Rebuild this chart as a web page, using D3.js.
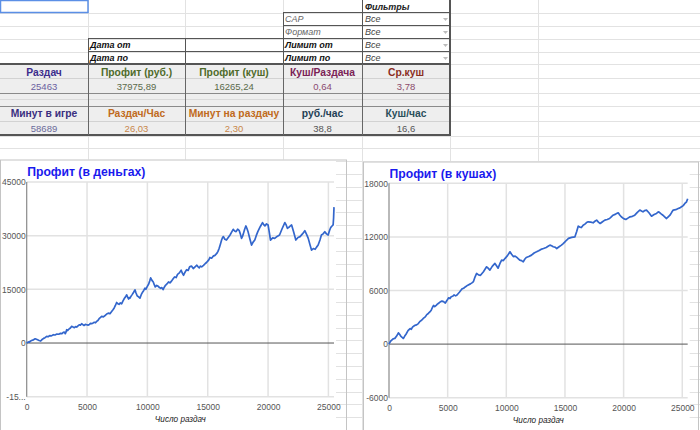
<!DOCTYPE html>
<html><head><meta charset="utf-8">
<script src="https://cdn.jsdelivr.net/npm/d3@7"></script>
<style>html,body{margin:0;padding:0;background:#fff;}svg{display:block;font-family:Arial,"Liberation Sans",sans-serif;}</style>
</head><body>
<svg id="c" width="700" height="430"></svg>
<script>
// ---------- data ----------
const filterLabels = ["CAP", "Формат", "Лимит от", "Лимит по"];
const filterValues = ["Все", "Все", "Все", "Все"];
const dateLabels = ["Дата от", "Дата по"];
const statHeaders1 = ["Раздач", "Профит (руб.)", "Профит (куш)", "Куш/Раздача", "Ср.куш"];
const statValues1 = ["25463", "37975,89", "16265,24", "0,64", "3,78"];
const statHeaders2 = ["Минут в игре", "Раздач/Час", "Минут на раздачу", "руб./час", "Куш/час"];
const statValues2 = ["58689", "26,03", "2,30", "38,8", "16,6"];
const headColors1 = ["#3c2d8c", "#4e6b2a", "#4e6b2a", "#7a2255", "#8b2e1e"];
const valColors1 = ["#6b5fa0", "#5a6a4a", "#5a6a4a", "#8a4a70", "#8a4a6a"];
const headColors2 = ["#3a2f80", "#c06a20", "#c06a20", "#1f3f55", "#2a4f5a"];
const valColors2 = ["#6a6a9a", "#c8874a", "#c8874a", "#555555", "#555555"];

const xTicks = [0, 5000, 10000, 15000, 20000, 25000];
const rubTicks = [-15000, 0, 15000, 30000, 45000];
const rubTickLabels = ["-15...", "0", "15000", "30000", "45000"];
const kushTicks = [-6000, 0, 6000, 12000, 18000];
const kushTickLabels = ["-6000", "0", "6000", "12000", "18000"];

const rubHands = [0,80,150,230,300,400,500,600,700,800,900,1030,1160,1280,1400,1520,1656,1780,1900,2050,2208,2350,2500,2650,2800,2920,3036,3120,3200,3260,3312,3400,3500,3620,3726,3840,3950,4050,4140,4250,4350,4450,4554,4650,4750,4860,4968,5080,5200,5290,5382,5500,5600,5700,5796,5900,6000,6100,6210,6350,6500,6630,6762,6900,7038,7150,7250,7350,7452,7550,7650,7760,7866,7980,8100,8190,8280,8370,8450,8500,8556,8650,8750,8860,8970,9060,9150,9270,9384,9490,9600,9700,9798,9870,9940,10020,10100,10190,10270,10380,10488,10570,10650,10770,10900,11000,11100,11200,11300,11400,11500,11620,11750,11870,12000,12120,12250,12380,12500,12650,12800,12900,13000,13120,13250,13380,13500,13650,13800,13950,14100,14200,14300,14400,14500,14650,14800,14900,15000,15100,15180,15320,15450,15600,15750,15850,15950,16050,16150,16230,16300,16420,16550,16700,16850,16980,17110,17230,17350,17480,17600,17700,17800,17880,17950,18060,18160,18250,18350,18500,18630,18760,18900,19020,19150,19350,19540,19640,19740,19870,20000,20100,20200,20380,20550,20750,20950,21170,21390,21500,21600,21780,21950,22120,22300,22480,22650,22850,23045,23200,23330,23470,23600,23750,23900,24020,24150,24300,24420,24560,24700,24840,24980,25100,25200,25300,25390,25430,25463];
const rubValues = [0,200,300,250,520,700,800,1000,1200,1050,900,700,560,1000,1300,1500,1860,1750,2050,2000,2320,2250,2500,2450,2700,2600,2970,3050,2600,3100,3720,3500,3900,4200,4650,4500,4300,4600,4460,4800,5100,5000,5390,5150,4900,5200,5110,5000,5200,5500,5390,5600,5800,5650,6040,6300,6800,7100,7430,7300,7700,8100,8360,8200,8830,9300,9800,10500,11330,11000,10800,11200,10960,11800,12500,12900,13470,12800,12300,12700,12540,13100,13600,14200,14860,14000,13200,12900,12540,13500,14200,14700,15330,15000,15470,16000,16400,17300,18190,17500,17060,16300,15660,16100,15840,15500,15300,15500,14900,15600,16130,16500,17060,16800,17300,17900,18470,18300,19200,19600,20340,19500,18940,19800,20500,20300,21280,21500,20800,21300,21750,21300,21000,21500,21280,21700,22220,22500,22900,23300,23900,23700,24280,24500,25030,25600,26500,27600,28780,29500,29720,29000,28780,29500,30190,31000,31780,31300,31125,31800,31500,30500,29250,29800,30500,31800,32720,32000,31000,29000,27375,28200,28780,30000,31125,32500,33660,33100,32720,33300,33000,31000,28780,29400,29250,29800,30190,32000,33660,33000,32050,32500,33000,31000,28780,29500,29730,30500,31400,30300,29250,27500,25970,26400,26200,26800,27370,28800,30190,30500,31125,30500,30190,31500,32340,32700,33000,35000,37976];

const kushHands = [0,120,230,370,500,650,800,900,1000,1120,1230,1340,1450,1620,1800,1900,2000,2100,2200,2350,2500,2650,2800,2950,3085,3220,3350,3480,3600,3700,3800,3900,4000,4100,4200,4350,4510,4650,4800,4950,5085,5200,5300,5420,5550,5680,5800,6000,6230,6360,6500,6720,6940,7070,7200,7330,7470,7630,7800,8050,8320,8450,8600,8800,9030,9150,9300,9450,9600,9750,9900,10100,10310,10450,10600,10750,10900,11030,11150,11300,11445,11570,11700,11920,12150,12370,12580,12760,12950,13170,13400,13560,13720,13860,14000,14150,14300,14500,14700,14850,15000,15150,15300,15570,15850,16000,16130,16270,16400,16550,16700,16840,16980,17200,17400,17550,17700,17850,18000,18200,18400,18600,18800,18950,19100,19320,19540,19670,19800,20000,20190,20370,20550,20750,20950,21170,21380,21520,21650,21800,21950,22160,22380,22600,22800,22900,23000,23170,23350,23500,23660,23800,23950,24100,24230,24440,24650,24800,24935,25080,25220,25350,25463];
const kushValues = [0,300,450,600,640,900,1260,1100,900,750,630,900,1100,1500,1740,1650,1900,2000,2100,2150,2300,2550,2700,2900,3040,3300,3430,3600,3800,4100,4330,4200,4300,4450,4550,4700,4815,4750,4600,4900,5185,5100,5300,5350,5500,5400,5500,5800,6185,6250,6400,6600,6740,6850,7000,7500,7910,7750,7700,8100,8650,8500,8280,8700,9030,8800,8500,9000,9400,9350,9600,9900,10330,10050,9800,9850,9700,9550,9400,9350,9210,9500,9700,9800,9960,10200,10330,10450,10600,10700,10820,10950,11080,11000,10900,10850,10700,10900,11080,11250,11450,11650,11830,11950,12010,12600,13200,13100,13050,13300,13430,13600,13690,13650,13580,13750,13880,13650,13500,13700,13880,13950,14060,14250,14430,14550,14700,14450,14250,14050,13950,14100,14250,14300,14430,14750,15000,14900,14800,14950,15000,14700,14320,14500,14620,14750,14800,14600,14430,14250,14060,14250,14430,14750,15000,15050,15180,15250,15370,15500,15740,15900,16265];

// ---------- drawing ----------
const svg = d3.select("#c");
const W = 700, H = 430;
const gridC = "#e2e2e2";
svg.append("rect").attr("width", W).attr("height", H).attr("fill", "#fff");

// sheet gridlines
const rowYs = [12.5, 25.5, 38.5, 51.5, 64, 78, 93, 106, 121, 135.5];
for (let y = 148.3; y < H; y += 12.8) rowYs.push(y);
const colXs = [88, 185, 283, 362, 450, 538];
const sheet = svg.append("g").attr("shape-rendering", "crispEdges");
sheet.selectAll("line.r").data(rowYs).join("line").attr("class", "r")
  .attr("x1", 0).attr("x2", W).attr("y1", d => Math.round(d) + 0.5).attr("y2", d => Math.round(d) + 0.5)
  .attr("stroke", gridC);
sheet.selectAll("line.c").data(colXs).join("line").attr("class", "c")
  .attr("x1", d => d + 0.5).attr("x2", d => d + 0.5).attr("y1", 0).attr("y2", H)
  .attr("stroke", gridC);

// selected cell
svg.append("rect").attr("x", 0.5).attr("y", 0.5).attr("width", 87.5).attr("height", 12)
  .attr("fill", "none").attr("stroke", "#5b8fe6").attr("stroke-width", 1.5);

// filters block
const dark = "#555";
const fg = svg.append("g");
fg.append("text").attr("x", 365).attr("y", 9.5).attr("font-size", 9).attr("font-weight", "bold")
  .attr("font-style", "italic").attr("fill", "#222").text("Фильтры");
const fRowTop = [12.5, 25.5, 38.5, 51.5];
filterLabels.forEach((lab, i) => {
  const bold = i >= 2;
  fg.append("text").attr("x", 285).attr("y", fRowTop[i] + 9.8).attr("font-size", 9)
    .attr("font-style", "italic").attr("font-weight", bold ? "bold" : "normal")
    .attr("fill", bold ? "#111" : "#666").text(lab);
  fg.append("text").attr("x", 365).attr("y", fRowTop[i] + 9.8).attr("font-size", 9)
    .attr("font-style", "italic").attr("fill", "#444").text(filterValues[i]);
  const ty = fRowTop[i] + 5.5;
  fg.append("path").attr("d", `M443,${ty} L448,${ty} L445.5,${ty + 3} Z`).attr("fill", "#bbb");
});
dateLabels.forEach((lab, i) => {
  fg.append("text").attr("x", 90).attr("y", fRowTop[i + 2] + 9.8).attr("font-size", 9)
    .attr("font-style", "italic").attr("font-weight", "bold").attr("fill", "#111").text(lab);
});
const bl = fg.append("g").attr("stroke", dark).attr("shape-rendering", "crispEdges");
[[283.5, 12.5, 283.5, 64], [362.5, 0, 362.5, 64], [88.5, 38.5, 88.5, 64], [185.5, 38.5, 185.5, 64]].forEach(l =>
  bl.append("line").attr("x1", l[0]).attr("y1", l[1]).attr("x2", l[2]).attr("y2", l[3]));
[12.5, 25.5].forEach(y => bl.append("line").attr("x1", 283).attr("x2", 451).attr("y1", y).attr("y2", y));
[38.5, 51.5].forEach(y => bl.append("line").attr("x1", 88).attr("x2", 451).attr("y1", y).attr("y2", y));
bl.append("line").attr("x1", 450).attr("x2", 450).attr("y1", 0).attr("y2", 64).attr("stroke-width", 2);

// statistics table
const colEdges = [0, 88, 185, 283, 362, 450];
const tb = svg.append("g");
tb.append("rect").attr("x", 0).attr("y", 64).attr("width", 450).attr("height", 71.5).attr("fill", "#eeeeee");
const tl = tb.append("g").attr("shape-rendering", "crispEdges");
[[78.5, "#d2d2d2"], [99.5, "#dadada"], [121.5, "#d2d2d2"]].forEach(r =>
  tl.append("line").attr("x1", 0).attr("x2", 450).attr("y1", r[0]).attr("y2", r[0]).attr("stroke", r[1]));
[[93.5, "#8a8a8a"], [106.5, "#8a8a8a"]].forEach(r =>
  tl.append("line").attr("x1", 0).attr("x2", 450).attr("y1", r[0]).attr("y2", r[0]).attr("stroke", r[1]));
tl.append("line").attr("x1", 0).attr("x2", 451).attr("y1", 64).attr("y2", 64).attr("stroke", dark).attr("stroke-width", 1.5);
tl.append("line").attr("x1", 0).attr("x2", 451).attr("y1", 135).attr("y2", 135).attr("stroke", dark).attr("stroke-width", 2);
colEdges.slice(1, 5).forEach(x => tl.append("line").attr("x1", x + 0.5).attr("x2", x + 0.5).attr("y1", 64).attr("y2", 135)
  .attr("stroke", "#666").attr("stroke-width", 1.5));
tl.append("line").attr("x1", 450).attr("x2", 450).attr("y1", 64).attr("y2", 136).attr("stroke", dark).attr("stroke-width", 2);
const centers = colEdges.slice(0, 5).map((e, i) => (e + colEdges[i + 1]) / 2);
function statRow(labels, colors, y, bold) {
  tb.selectAll(null).data(labels).join("text")
    .attr("x", (d, i) => centers[i]).attr("y", y).attr("text-anchor", "middle")
    .attr("font-size", bold ? 10.3 : 9.5).attr("font-weight", bold ? "bold" : "normal")
    .attr("fill", (d, i) => colors[i]).text(d => d);
}
statRow(statHeaders1, headColors1, 75.5, true);
statRow(statValues1, valColors1, 89.5, false);
statRow(statHeaders2, headColors2, 117, true);
statRow(statValues2, valColors2, 131.5, false);

// ---------- charts ----------
function chart(o) {
  const g = svg.append("g");
  g.append("rect").attr("x", o.bx).attr("y", o.by).attr("width", o.plotR + 2 - o.bx).attr("height", H - o.by + 5).attr("fill", "#fff");
  g.append("rect").attr("x", o.bx + 0.5).attr("y", o.by + 0.5).attr("width", o.bw).attr("height", H - o.by + 5)
    .attr("fill", "none").attr("stroke", "#c4c4c4");
  const x = d3.scaleLinear().domain([0, 25463]).range([o.plotL, o.plotR]);
  const y = d3.scaleLinear().domain(o.yDomain).range([o.plotB, o.plotT]);
  g.selectAll("line.vg").data(xTicks.slice(1)).join("line").attr("class", "vg")
    .attr("x1", d => x(d)).attr("x2", d => x(d)).attr("y1", o.plotT).attr("y2", o.plotB)
    .attr("stroke", "#e2e2e2").attr("stroke-width", 1.5);
  g.selectAll("line.hg").data(o.yTicks.filter(t => t !== 0)).join("line").attr("class", "hg")
    .attr("x1", o.plotL).attr("x2", o.plotR).attr("y1", d => y(d)).attr("y2", d => y(d))
    .attr("stroke", "#e2e2e2").attr("stroke-width", 1.5);
  g.append("line").attr("x1", o.plotL).attr("x2", o.plotR).attr("y1", y(0)).attr("y2", y(0))
    .attr("stroke", "#555").attr("stroke-width", 1);
  g.append("line").attr("x1", o.plotL).attr("x2", o.plotL).attr("y1", o.plotT).attr("y2", o.plotB)
    .attr("stroke", "#8a8a8a").attr("stroke-width", 1.2);
  const ax = g.append("g").attr("transform", `translate(0,${o.plotB + 13})`)
    .call(d3.axisBottom(x).tickValues(xTicks).tickSize(0).tickPadding(0).tickFormat(d3.format("d")));
  ax.select(".domain").remove();
  ax.selectAll("text").attr("font-size", 8.5).attr("fill", "#555").attr("font-family", "Arial,'Liberation Sans',sans-serif").attr("dy", 0);
  const ay = g.append("g").attr("transform", `translate(${o.plotL - 1},0)`)
    .call(d3.axisLeft(y).tickValues(o.yTicks).tickSize(0).tickPadding(0).tickFormat((d, i) => o.yLabels[i]));
  ay.select(".domain").remove();
  ay.selectAll("text").attr("font-size", 8.5).attr("fill", "#555").attr("font-family", "Arial,'Liberation Sans',sans-serif");
  const pts = o.hands.map((h, i) => [h, o.vals[i]]);
  g.append("path").datum(pts).attr("fill", "none").attr("stroke", "#3366cc").attr("stroke-width", 1.7)
    .attr("stroke-linejoin", "round")
    .attr("d", d3.line().x(d => x(d[0])).y(d => y(d[1])));
  g.append("text").attr("x", o.plotL + 0.5).attr("y", o.by + 16.5).attr("font-size", 12.2).attr("font-weight", "bold")
    .attr("fill", "#1a1aee").text(o.title);
  g.append("text").attr("x", (o.plotL + o.plotR) / 2).attr("y", o.plotB + 25.5).attr("text-anchor", "middle")
    .attr("font-size", 8.2).attr("font-style", "italic").attr("fill", "#222").text("Число раздач");
}
chart({bx: 0, by: 159.5, bw: 346, plotL: 26.7, plotR: 334, plotT: 182, plotB: 396.7,
  yDomain: [-15000, 45000], yTicks: rubTicks, yLabels: rubTickLabels,
  hands: rubHands, vals: rubValues, title: "Профит (в деньгах)"});
chart({bx: 363, by: 161.5, bw: 335, plotL: 389, plotR: 687.7, plotT: 183.3, plotB: 397.7,
  yDomain: [-6000, 18000], yTicks: kushTicks, yLabels: kushTickLabels,
  hands: kushHands, vals: kushValues, title: "Профит (в кушах)"});
</script>
</body></html>
